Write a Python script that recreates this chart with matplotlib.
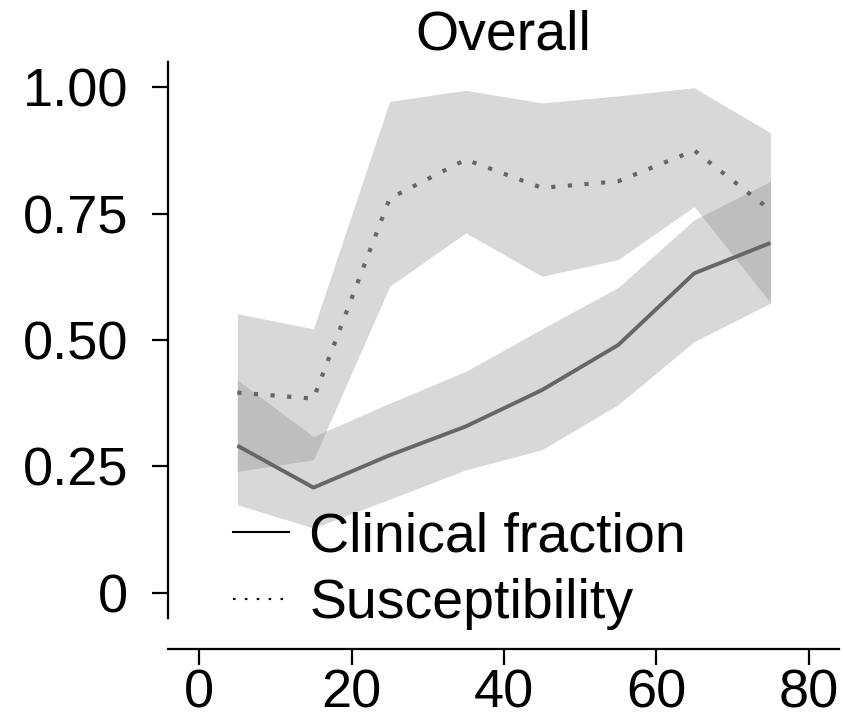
import matplotlib
matplotlib.use("Agg")
import matplotlib.pyplot as plt
from matplotlib.lines import Line2D

plt.rcParams['font.family'] = ['Liberation Sans', 'DejaVu Sans']

# Data
age = [5, 15, 25, 35, 45, 55, 65, 75]
clinical = [0.291, 0.208, 0.272, 0.329, 0.401, 0.490, 0.632, 0.692]
clinical_lo = [0.174, 0.128, 0.185, 0.243, 0.283, 0.372, 0.497, 0.573]
clinical_hi = [0.421, 0.309, 0.375, 0.438, 0.522, 0.604, 0.738, 0.814]
suscept = [0.396, 0.384, 0.780, 0.857, 0.801, 0.814, 0.875, 0.757]
suscept_lo = [0.240, 0.263, 0.606, 0.712, 0.626, 0.659, 0.764, 0.574]
suscept_hi = [0.552, 0.522, 0.972, 0.994, 0.969, 0.983, 0.999, 0.910]
xticks = [0, 20, 40, 60, 80]
yticks = [0, 0.25, 0.5, 0.75, 1.0]
yticklabels = ['0', '0.25', '0.50', '0.75', '1.00']
legend_labels = ['Clinical fraction', 'Susceptibility']
title = 'Overall'

fig = plt.figure(figsize=(8.43, 7.21), dpi=100)
ax = fig.add_axes([168/843, 1-618/721, (839-168)/843, (618-62)/721])

band_color = '#888888'
line_color = '#666666'
ax.fill_between(age, clinical_lo, clinical_hi, color=band_color, alpha=0.32, lw=0)
ax.fill_between(age, suscept_lo, suscept_hi, color=band_color, alpha=0.32, lw=0)
ax.plot(age, clinical, color=line_color, lw=2.8, solid_capstyle='butt')
ax.plot(age, suscept, color=line_color, lw=3.0, linestyle=(0, (1.0, 3.0)))

ax.set_xlim(-4.1, 84.0)
ax.set_ylim(-0.05, 1.05)
ax.set_xticks(xticks)
ax.set_yticks(yticks)
ax.set_yticklabels(yticklabels)

for s in ['top', 'right']:
    ax.spines[s].set_visible(False)
ax.spines['left'].set_linewidth(1.6)
ax.spines['bottom'].set_linewidth(1.6)
ax.spines['bottom'].set_position(('outward', 22))
ax.tick_params(axis='both', length=11.5, width=1.6, labelsize=39)
ax.tick_params(axis='x', pad=2.5)
ax.tick_params(axis='y', pad=17)

ax.set_title(title, fontsize=40, pad=5)

handles = [Line2D([], [], color='black', lw=1.5),
           Line2D([], [], color='black', lw=1.5, linestyle=(0, (1.2, 4.5)))]
leg = ax.legend(handles, legend_labels, loc='center left', frameon=False,
                fontsize=40, handlelength=1.0, handletextpad=0.37,
                labelspacing=0.27, borderaxespad=0,
                bbox_to_anchor=(211/843, 1-571/721), bbox_transform=fig.transFigure)

fig.savefig('out.png', dpi=100)
